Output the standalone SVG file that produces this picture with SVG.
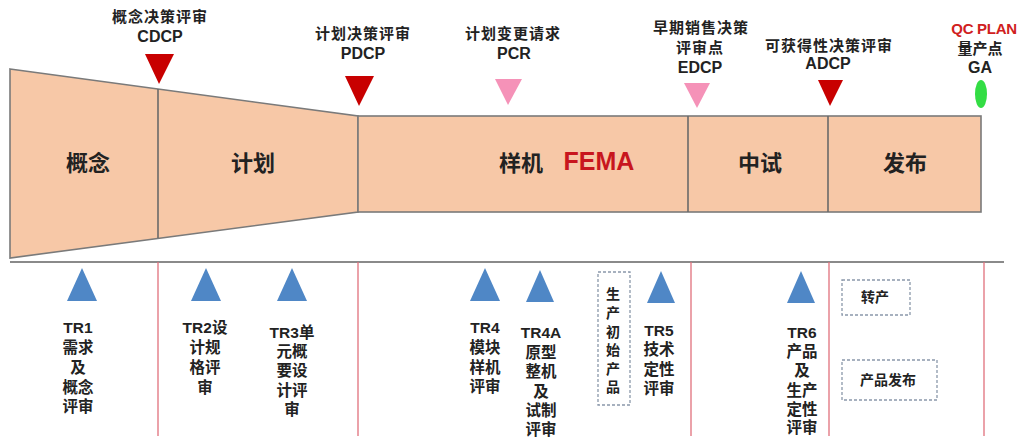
<svg xmlns="http://www.w3.org/2000/svg" width="1023" height="438" viewBox="0 0 1023 438">
<style>
text{font-family:"Liberation Sans","Noto Sans CJK SC",sans-serif;font-weight:bold;fill:#222;text-anchor:middle;dominant-baseline:central}
.top{font-size:15px;letter-spacing:1px}
.code{font-size:16px;letter-spacing:0}
.phase{font-size:22px}
.tr{font-size:15.5px}
.box{font-size:14px}
.stage{fill:#f7c8a7;stroke:#7a7a7a;stroke-width:1.6}
.div{stroke:#6a6a6a;stroke-width:1.6;fill:none}
.red{fill:#c80000}
.pink{fill:#f592b8}
.blue{fill:#4f87c6}
.dash{fill:none;stroke:#8a98aa;stroke-width:1.3;stroke-dasharray:3 2}
.vline{stroke:#e0707c;stroke-width:1.3}
</style>
<rect width="1023" height="438" fill="#ffffff"/>

<g id="stages">
  <polygon class="stage" points="10,69 358,116 358,212 10,258"/>
  <rect class="stage" x="358" y="116" width="623" height="96"/>
  <line class="div" x1="158" y1="89" x2="158" y2="238"/>
  <line class="div" x1="688" y1="116" x2="688" y2="212"/>
  <line class="div" x1="828" y1="116" x2="828" y2="212"/>
  <text class="phase" x="88" y="163">概念</text>
  <text class="phase" x="253" y="163">计划</text>
  <text class="phase" x="521" y="163">样机</text>
  <text class="phase" x="599" y="161" style="fill:#c8161e;font-size:25px">FEMA</text>
  <text class="phase" x="760" y="163">中试</text>
  <text class="phase" x="905" y="163">发布</text>
</g>

<g id="connectors">
  <line x1="10" y1="262" x2="1004" y2="262" stroke="#8a8a8a" stroke-width="2"/>
  <line class="vline" x1="158" y1="262" x2="158" y2="436"/>
  <line class="vline" x1="358" y1="262" x2="358" y2="436"/>
  <line class="vline" x1="691" y1="262" x2="691" y2="436"/>
  <line class="vline" x1="829" y1="262" x2="829" y2="436"/>
  <line class="vline" x1="984" y1="262" x2="984" y2="436"/>
</g>

<g id="cdcp">
  <text class="top" x="160" y="16">概念决策评审</text>
  <text class="code" x="160" y="36">CDCP</text>
  <polygon class="red" points="145,54 174,54 159,84"/>
</g>
<g id="pdcp">
  <text class="top" x="363" y="33">计划决策评审</text>
  <text class="code" x="363" y="53">PDCP</text>
  <polygon class="red" points="345,76 374,76 359,106"/>
</g>
<g id="pcr">
  <text class="top" x="513" y="33">计划变更请求</text>
  <text class="code" x="514" y="53">PCR</text>
  <polygon class="pink" points="495,79 522,79 508,105"/>
</g>
<g id="edcp">
  <text class="top" x="701" y="27">早期销售决策</text>
  <text class="top" x="700" y="47">评审点</text>
  <text class="code" x="700" y="67">EDCP</text>
  <polygon class="pink" points="684,83 710,83 697,108"/>
</g>
<g id="adcp">
  <text class="top" x="829" y="45">可获得性决策评审</text>
  <text class="code" x="828" y="63">ADCP</text>
  <polygon class="red" points="818,80 843,80 830,106"/>
</g>
<g id="ga">
  <text class="code" x="984" y="28" style="fill:#d02020;font-size:15px;letter-spacing:-0.3px">QC PLAN</text>
  <text class="top" x="980" y="48" style="letter-spacing:0">量产点</text>
  <text class="code" x="980" y="67">GA</text>
  <ellipse cx="981" cy="94" rx="6" ry="14" fill="#33dd44"/>
</g>

<g id="tr1">
  <polygon class="blue" points="82,268 97,301 67,301"/>
  <text class="tr" x="78" y="327">TR1</text>
  <text class="tr" x="78" y="347">需求</text>
  <text class="tr" x="78" y="367">及</text>
  <text class="tr" x="78" y="387">概念</text>
  <text class="tr" x="78" y="406">评审</text>
</g>
<g id="tr2">
  <polygon class="blue" points="206,268 221,301 191,301"/>
  <text class="tr" x="205" y="327">TR2设</text>
  <text class="tr" x="205" y="347">计规</text>
  <text class="tr" x="205" y="367">格评</text>
  <text class="tr" x="205" y="387">审</text>
</g>
<g id="tr3">
  <polygon class="blue" points="292,268 307,301 277,301"/>
  <text class="tr" x="292" y="332">TR3单</text>
  <text class="tr" x="292" y="351">元概</text>
  <text class="tr" x="292" y="370">要设</text>
  <text class="tr" x="292" y="390">计评</text>
  <text class="tr" x="292" y="409">审</text>
</g>
<g id="tr4">
  <polygon class="blue" points="485,268 500,301 470,301"/>
  <text class="tr" x="485" y="327">TR4</text>
  <text class="tr" x="485" y="347">模块</text>
  <text class="tr" x="485" y="367">样机</text>
  <text class="tr" x="485" y="386">评审</text>
</g>
<g id="tr4a">
  <polygon class="blue" points="540,270 554,302 526,302"/>
  <text class="tr" x="541" y="332">TR4A</text>
  <text class="tr" x="541" y="352">原型</text>
  <text class="tr" x="541" y="371">整机</text>
  <text class="tr" x="541" y="391">及</text>
  <text class="tr" x="541" y="410">试制</text>
  <text class="tr" x="541" y="429">评审</text>
</g>
<g id="initial-product">
  <rect class="dash" x="598" y="272" width="32" height="133"/>
  <text class="box" x="613" y="294">生</text>
  <text class="box" x="613" y="313">产</text>
  <text class="box" x="613" y="332">初</text>
  <text class="box" x="613" y="350">始</text>
  <text class="box" x="613" y="369">产</text>
  <text class="box" x="613" y="387">品</text>
</g>
<g id="tr5">
  <polygon class="blue" points="661,271 675,303 647,303"/>
  <text class="tr" x="659" y="330">TR5</text>
  <text class="tr" x="659" y="349">技术</text>
  <text class="tr" x="659" y="369">定性</text>
  <text class="tr" x="659" y="388">评审</text>
</g>
<g id="tr6">
  <polygon class="blue" points="801,271 815,303 787,303"/>
  <text class="tr" x="802" y="332">TR6</text>
  <text class="tr" x="802" y="351">产品</text>
  <text class="tr" x="802" y="370">及</text>
  <text class="tr" x="802" y="390">生产</text>
  <text class="tr" x="802" y="409">定性</text>
  <text class="tr" x="802" y="427">评审</text>
</g>
<g id="transfer">
  <rect class="dash" x="842" y="280" width="68" height="35"/>
  <text class="box" x="875" y="297">转产</text>
</g>
<g id="release">
  <rect class="dash" x="842" y="360" width="95" height="40"/>
  <text class="box" x="888" y="380">产品发布</text>
</g>
</svg>
